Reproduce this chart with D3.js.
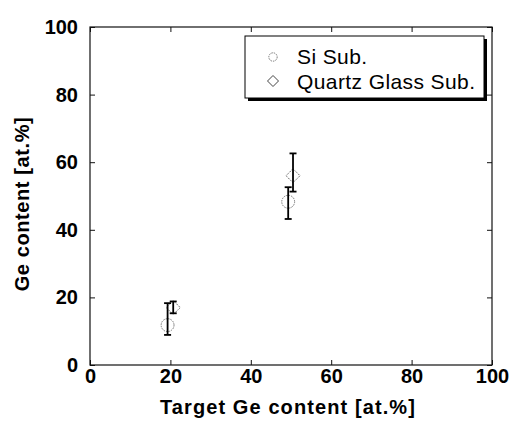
<!DOCTYPE html>
<html><head><meta charset="utf-8">
<script src="https://cdn.jsdelivr.net/npm/d3@7"></script>
<style>body{margin:0;background:#fff}svg{display:block}</style>
</head><body><svg id="c" width="510" height="424"></svg>
<script>
const series = ["Si Sub.", "Quartz Glass Sub."];
const siX = [19.3, 49.3];
const siY = [11.8, 48.3];
const siLo = [8.9, 43.2];
const siHi = [18.3, 52.6];
const qzX = [20.7, 50.5];
const qzY = [17.0, 56.0];
const qzLo = [15.3, 51.3];
const qzHi = [18.8, 62.6];
const xTicks = [0, 20, 40, 60, 80, 100];
const yTicks = [0, 20, 40, 60, 80, 100];
const xTitle = "Target Ge content [at.%]";
const yTitle = "Ge content [at.%]";

const svg = d3.select("#c");
const L = 90, R = 492, T = 27, B = 365;
const x = d3.scaleLinear().domain([0, 100]).range([L, R]);
const y = d3.scaleLinear().domain([0, 100]).range([B, T]);
const font = "Liberation Sans, Arial, sans-serif";

// frame
svg.append("rect").attr("x", L).attr("y", T).attr("width", R - L).attr("height", B - T)
  .attr("fill", "none").attr("stroke", "#111").attr("stroke-width", 1.2);

// axes
const ax = (g, axis) => { g.call(axis); g.select(".domain").remove(); g.selectAll("line").attr("stroke", "#111"); };
svg.append("g").attr("transform", `translate(0,${B})`)
  .call(g => ax(g, d3.axisBottom(x).tickValues(xTicks).tickSize(-5).tickPadding(4)))
  .selectAll("text").attr("font-family", font).attr("font-weight", "bold").attr("font-size", 20).attr("fill", "#000");
svg.append("g").attr("transform", `translate(${L},0)`)
  .call(g => ax(g, d3.axisLeft(y).tickValues(yTicks).tickSize(-5).tickPadding(12)))
  .selectAll("text").attr("font-family", font).attr("font-weight", "bold").attr("font-size", 20).attr("fill", "#000");
svg.append("g").attr("transform", `translate(0,${T})`)
  .call(g => ax(g, d3.axisTop(x).tickValues(xTicks).tickSize(-5).tickFormat("")));
svg.append("g").attr("transform", `translate(${R},0)`)
  .call(g => ax(g, d3.axisRight(y).tickValues(yTicks).tickSize(-5).tickFormat("")));

// titles
svg.append("text").attr("x", (L + R) / 2 - 3).attr("y", 414).attr("text-anchor", "middle")
  .attr("font-family", font).attr("font-weight", "bold").attr("font-size", 20).attr("letter-spacing", 1.1).text(xTitle);
svg.append("text").attr("transform", `translate(29,204) rotate(-90)`).attr("text-anchor", "middle")
  .attr("font-family", font).attr("font-weight", "bold").attr("font-size", 20).attr("letter-spacing", 0.6).text(yTitle);

// error bars
function errs(xs, lo, hi, w) {
  const g = svg.append("g").attr("stroke", "#000").attr("stroke-width", w);
  xs.forEach((v, i) => {
    g.append("line").attr("x1", x(v)).attr("x2", x(v)).attr("y1", y(lo[i])).attr("y2", y(hi[i]));
    [lo[i], hi[i]].forEach(e => g.append("line").attr("x1", x(v) - 3.5).attr("x2", x(v) + 3.5).attr("y1", y(e)).attr("y2", y(e)));
  });
}
// markers
const circ = d3.symbol().type(d3.symbolCircle).size(130);
const diam = (cx, cy, r) => `M${cx},${cy - r}L${cx + r},${cy}L${cx},${cy + r}L${cx - r},${cy}Z`;
svg.append("g").selectAll("path").data(siX).join("path")
  .attr("transform", (d, i) => `translate(${x(d)},${y(siY[i])})`).attr("d", circ())
  .attr("fill", "none").attr("stroke", "#777").attr("stroke-width", 1).attr("stroke-dasharray", "1.5,1");
svg.append("g").selectAll("path").data(qzX).join("path")
  .attr("d", (d, i) => diam(x(d), y(qzY[i]), 7))
  .attr("fill", "none").attr("stroke", "#666").attr("stroke-width", 1).attr("stroke-dasharray", "1.5,1");
errs(siX, siLo, siHi, 1.8);
errs(qzX, qzLo, qzHi, 1.8);

// legend
const lg = svg.append("g");
lg.append("rect").attr("x", 248).attr("y", 39).attr("width", 239).attr("height", 62).attr("fill", "#000");
lg.append("rect").attr("x", 245).attr("y", 36).attr("width", 239).attr("height", 62)
  .attr("fill", "#fff").attr("stroke", "#000").attr("stroke-width", 1);
lg.append("path").attr("transform", "translate(273,57)").attr("d", d3.symbol().type(d3.symbolCircle).size(55)())
  .attr("fill", "none").attr("stroke", "#777").attr("stroke-dasharray", "1.5,1");
lg.append("path").attr("d", diam(273, 81, 5.5)).attr("fill", "none").attr("stroke", "#444");
lg.append("text").attr("x", 297).attr("y", 64).attr("font-family", font).attr("font-size", 21).attr("letter-spacing", 0.4).text(series[0]);
lg.append("text").attr("x", 297).attr("y", 89).attr("font-family", font).attr("font-size", 21).attr("letter-spacing", 0.4).text(series[1]);
</script></body></html>
